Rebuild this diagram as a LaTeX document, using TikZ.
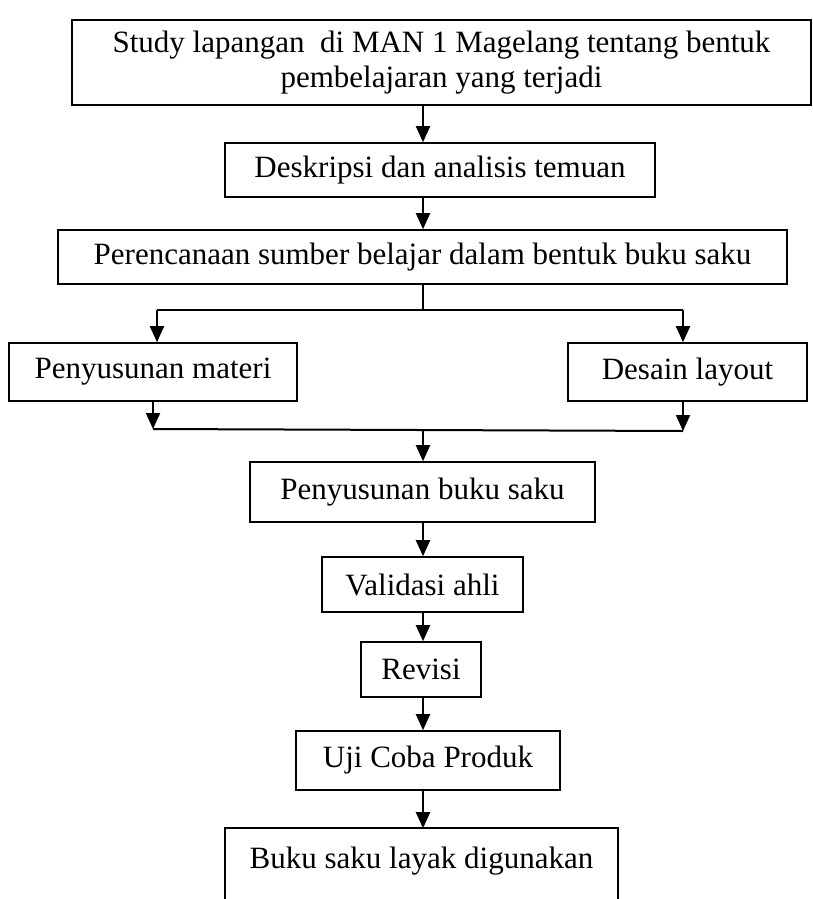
\documentclass[tikz,border=0pt]{standalone}
\usepackage{fontspec}
\setmainfont{Liberation Serif}
\usetikzlibrary{arrows.meta}
\begin{document}
\begin{tikzpicture}[x=1pt,y=-1pt,
  box/.style={draw,line width=1.6pt,inner sep=0pt,align=center,font=\fontsize{31}{35}\selectfont},
  arr/.style={line width=2pt,-{Triangle[length=16pt,width=14pt]}},
  ln/.style={line width=2pt}]
\useasboundingbox (0,0) rectangle (812,899);
\coordinate (ax) at (423,0);
\node[box,minimum width=739pt,minimum height=85pt] (b1) at (441.5,62.5) {Study lapangan\ \ di MAN 1 Magelang tentang bentuk\\pembelajaran yang terjadi};
\node[box,minimum width=430pt,minimum height=54pt] (b2) at (440,170) {Deskripsi dan analisis temuan};
\node[box,minimum width=729pt,minimum height=54pt] (b3) at (422.5,257) {Perencanaan sumber belajar dalam bentuk buku saku};
\node[box,minimum width=288pt,minimum height=58pt] (m) at (153,372) {Penyusunan materi};
\node[box,minimum width=239pt,minimum height=58pt] (d) at (687.5,372) {Desain layout};
\node[box,minimum width=345pt,minimum height=60pt] (k) at (422.5,492) {Penyusunan buku saku};
\node[box,minimum width=201pt,minimum height=55pt] (v) at (422.5,584.5) {Validasi ahli};
\node[box,minimum width=120pt,minimum height=55pt] (r) at (421,669.5) {Revisi};
\node[box,minimum width=264pt,minimum height=59pt] (u) at (428,760.5) {Uji Coba Produk};
\node[box,draw=none,minimum width=391pt,minimum height=70pt] (bk) at (421.5,864) {};
\node[font=\fontsize{31}{35}\selectfont,inner sep=0pt] (bkt) at (421.5,861) {Buku saku layak digunakan};
\draw[line width=1.6pt] (bk.south west) -- (bk.north west) -- (bk.north east) -- (bk.south east);
% connectors
\draw[arr] (b1.south -| ax) -- (b2.north -| ax);
\draw[arr] (b2.south -| ax) -- (b3.north -| ax);
\coordinate (s) at (423,310);
\coordinate (sl) at (157,310);
\coordinate (sr) at (683,310);
\draw[ln] (b3.south -| ax) -- (s);
\draw[ln] (sl) -- (sr);
\draw[arr] (sl) -- (m.north -| sl);
\draw[arr] (sr) -- (d.north -| sr);
\coordinate (jl) at (153,429);
\coordinate (jr) at (683,431);
\coordinate (jm) at (423,430);
\draw[arr] (m.south -| jl) -- (jl);
\draw[arr] (d.south -| jr) -- (jr);
\draw[ln] (jl) -- (jr);
\draw[arr] (jm) -- (k.north -| ax);
\draw[arr] (k.south -| ax) -- (v.north -| ax);
\draw[arr] (v.south -| ax) -- (r.north -| ax);
\draw[arr] (r.south -| ax) -- (u.north -| ax);
\draw[arr] (u.south -| ax) -- (bk.north -| ax);
\end{tikzpicture}
\end{document}
